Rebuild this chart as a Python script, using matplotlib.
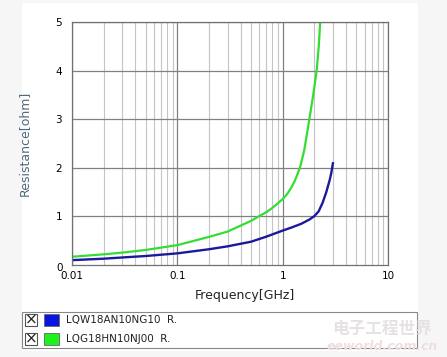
import numpy as np
import matplotlib.pyplot as plt
from matplotlib.patches import Rectangle

# values (frequency in GHz, resistance in ohm)
freq_lqw = [0.01, 0.02, 0.03, 0.05, 0.1, 0.2, 0.3, 0.5, 0.7, 1.0, 1.2, 1.5, 1.8, 2.0,
            2.2, 2.4, 2.6, 2.8, 2.9, 3.0]
res_lqw = [0.09, 0.12, 0.145, 0.175, 0.23, 0.315, 0.375, 0.47, 0.575, 0.70, 0.76, 0.84, 0.93, 1.0,
           1.1, 1.28, 1.50, 1.75, 1.9, 2.09]

freq_lqg = [0.01, 0.02, 0.03, 0.05, 0.1, 0.2, 0.3, 0.5, 0.6, 0.7, 0.8, 1.0, 1.1, 1.2, 1.3,
            1.46, 1.6, 1.78, 1.95, 2.1, 2.2, 2.27]
res_lqg = [0.16, 0.21, 0.245, 0.30, 0.40, 0.57, 0.68, 0.90, 1.0, 1.08, 1.17, 1.35, 1.45, 1.58, 1.72,
           2.0, 2.35, 2.96, 3.5, 3.99, 4.5, 5.0]

labels = ['LQW18AN10NG10  R.', 'LQG18HN10NJ00  R.']
colors = ['#1a1a9a', '#33dd33']
swatch = ['#0a14e0', '#1ef21e']

W, H = 447, 357
fig = plt.figure(figsize=(W / 100, H / 100), dpi=100, facecolor='#f6f6f6')

def fx(px):
    return px / W

def fy(py):
    return 1 - py / H

# white panel behind everything
fig.patches.append(Rectangle((fx(22), fy(351)), fx(396), 348 / H, transform=fig.transFigure,
                             facecolor='white', edgecolor='none', zorder=-5))

ax = fig.add_axes([fx(72), fy(264.5), fx(316), (264.5 - 22.3) / H])
ax.set_xscale('log')
ax.set_xlim(0.01, 10)
ax.set_ylim(0, 5)

ax.grid(True, which='minor', axis='x', color='#c4c4c4', lw=0.8)
ax.grid(True, which='major', color='#808080', lw=0.9)
ax.set_axisbelow(True)
for s in ax.spines.values():
    s.set_color('#707070')
    s.set_linewidth(0.9)

ax.plot(freq_lqw, res_lqw, color=colors[0], lw=1.7)
ax.plot(freq_lqg, res_lqg, color=colors[1], lw=1.6)

ax.tick_params(which='both', length=0, labelsize=7.5, pad=5)
ax.set_xticks([0.01, 0.1, 1, 10])
ax.set_xticklabels(['0.01', '0.1', '1', '10'])
ax.set_yticks([1, 2, 3, 4, 5])
ax.set_yticklabels(['1', '2', '3', '4', '5'])
ax.tick_params(axis='y', pad=7)
fig.text(fx(60), fy(268), '0', fontsize=7.5, ha='center', va='center')

fig.text(fx(24), fy(143), 'Resistance[ohm]', rotation=90, fontsize=9, color='#506878',
         ha='center', va='center')
fig.text(fx(245), fy(296), 'Frequency[GHz]', fontsize=9, color='#222222',
         ha='center', va='center')

# legend box
fig.patches.append(Rectangle((fx(22), fy(348)), fx(395), 36 / H, transform=fig.transFigure,
                             facecolor='white', edgecolor='#888888', lw=0.8))
for i, (lab, c) in enumerate(zip(labels, swatch)):
    yc = 320 + i * 19
    fig.patches.append(Rectangle((fx(25), fy(yc + 6)), fx(12), 12 / H, transform=fig.transFigure,
                                 facecolor='white', edgecolor='#555555', lw=0.8))
    fig.text(fx(31), fy(yc), '×', fontsize=11, ha='center', va='center', color='#222222')
    fig.patches.append(Rectangle((fx(44), fy(yc + 6)), fx(15), 12 / H, transform=fig.transFigure,
                                 facecolor=c, edgecolor='#666666', lw=0.6))
    fig.text(fx(66), fy(yc), lab, fontsize=7.5, ha='left', va='center', color='#222222')

# faint watermark
fig.text(fx(382), fy(329), '电子工程世界', fontsize=12, color='#e6e2e2', ha='center', va='center',
         family=['Noto Sans CJK SC', 'DejaVu Sans'], weight='bold')
fig.text(fx(382), fy(346), 'eeworld.com.cn', fontsize=9, color='#f0dede', ha='center', va='center',
         style='italic', weight='bold')

fig.savefig('out.png', dpi=100, facecolor=fig.get_facecolor())
